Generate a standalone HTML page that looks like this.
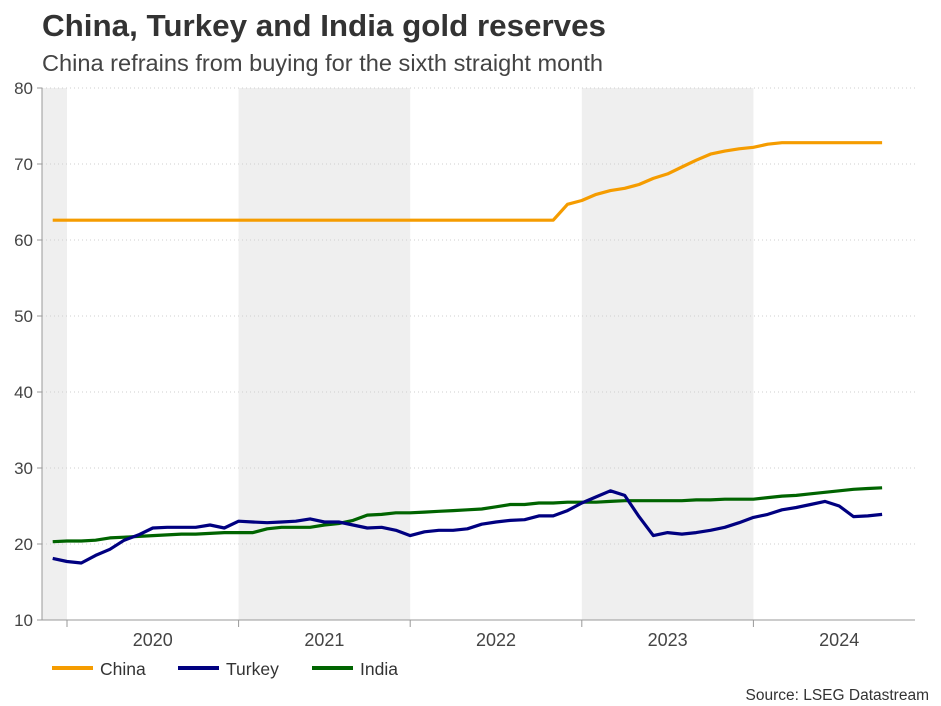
<!DOCTYPE html>
<html><head><meta charset="utf-8">
<style>
body{margin:0;background:#fff;font-family:"Liberation Sans",Arial,sans-serif;}
#wrap{position:relative;width:941px;height:706px;overflow:hidden;}
svg text{font-family:"Liberation Sans",Arial,sans-serif;}
</style></head>
<body>
<div id="wrap">
<svg id="chart" width="941" height="706">
  <text x="42" y="36" font-size="31" font-weight="bold" fill="#333" textLength="564" lengthAdjust="spacingAndGlyphs">China, Turkey and India gold reserves</text>
  <text x="42" y="71" font-size="23" fill="#444" textLength="561" lengthAdjust="spacingAndGlyphs">China refrains from buying for the sixth straight month</text>
  <g id="bands"></g>
  <g id="grid"></g>
  <g id="axes"></g>
  <g id="series"></g>
  <g>
    <g><rect x="52" y="666" width="41" height="4" fill="#f59c00"/><text x="100" y="675" font-size="17.5" fill="#333">China</text></g>
    <g><rect x="178" y="666" width="41" height="4" fill="#000080"/><text x="226" y="675" font-size="17.5" fill="#333">Turkey</text></g>
    <g><rect x="312" y="666" width="41" height="4" fill="#006400"/><text x="360" y="675" font-size="17.5" fill="#333">India</text></g>
  </g>
  <text x="929" y="700" font-size="15.5" fill="#333" text-anchor="end">Source: LSEG Datastream</text>
</svg>
</div>
<script>
const years = [2020, 2021, 2022, 2023, 2024];
const yTicks = [10, 20, 30, 40, 50, 60, 70, 80];
const shadedYears = [2019, 2021, 2023];
const china = [62.6,62.6,62.6,62.6,62.6,62.6,62.6,62.6,62.6,62.6,62.6,62.6,62.6,62.6,62.6,62.6,62.6,62.6,62.6,62.6,62.6,62.6,62.6,62.6,62.6,62.6,62.6,62.6,62.6,62.6,62.6,62.6,62.6,62.6,62.6,62.6,64.7,65.2,66.0,66.5,66.8,67.3,68.1,68.7,69.6,70.5,71.3,71.7,72.0,72.2,72.6,72.8,72.8,72.8,72.8,72.8,72.8,72.8,72.8];
const turkey = [18.1,17.7,17.5,18.5,19.3,20.5,21.2,22.1,22.2,22.2,22.2,22.5,22.1,23.0,22.9,22.8,22.9,23.0,23.3,22.9,22.9,22.5,22.1,22.2,21.8,21.1,21.6,21.8,21.8,22.0,22.6,22.9,23.1,23.2,23.7,23.7,24.4,25.4,26.2,27.0,26.4,23.6,21.1,21.5,21.3,21.5,21.8,22.2,22.8,23.5,23.9,24.5,24.8,25.2,25.6,25.0,23.6,23.7,23.9];
const india = [20.3,20.4,20.4,20.5,20.8,20.9,21.0,21.1,21.2,21.3,21.3,21.4,21.5,21.5,21.5,22.0,22.2,22.2,22.2,22.5,22.7,23.1,23.8,23.9,24.1,24.1,24.2,24.3,24.4,24.5,24.6,24.9,25.2,25.2,25.4,25.4,25.5,25.5,25.5,25.6,25.7,25.7,25.7,25.7,25.7,25.8,25.8,25.9,25.9,25.9,26.1,26.3,26.4,26.6,26.8,27.0,27.2,27.3,27.4];

const L = 42, R = 915, T = 88, B = 620;
const yearW = 171.6, year0X = 67;
function xYear(y){ return year0X + (y - 2020) * yearW; }
function xIdx(i){ return year0X + (i - 1) * yearW / 12; }
function yVal(v){ return B - (v - 10) * (B - T) / 70; }
const NS = "http://www.w3.org/2000/svg";
function mk(tag, attrs, parent){ const e = document.createElementNS(NS, tag); for (const k in attrs) e.setAttribute(k, attrs[k]); parent.appendChild(e); return e; }

const bands = document.getElementById('bands');
shadedYears.forEach(y => {
  const x0 = Math.max(L, xYear(y)), x1 = Math.min(R, xYear(y + 1));
  const r = mk('rect', {x: x0, y: T, width: x1 - x0, height: B - T, fill: '#efefef'}, bands);
  
  
});

const grid = document.getElementById('grid');
const axes = document.getElementById('axes');
yTicks.forEach(v => {
  if (v > 10) {
    const g = mk('line', {x1: L, x2: R, y1: yVal(v), y2: yVal(v), stroke: '#cfcfcf', 'stroke-dasharray': '1,3'}, grid);
    
    
  }
  const tk = mk('line', {x1: L - 5, x2: L, y1: yVal(v), y2: yVal(v), stroke: '#999'}, axes);
  
  
  const t = mk('text', {x: 33, y: yVal(v) + 6, 'font-size': 17, fill: '#444', 'text-anchor': 'end'}, axes);
  t.textContent = v;
  
  
});
const yl = mk('line', {x1: L, x2: L, y1: T, y2: B, stroke: '#999'}, axes);


const xl = mk('line', {x1: L, x2: R, y1: B, y2: B, stroke: '#999'}, axes);


years.concat([2025]).forEach(y => {
  const x = xYear(y);
  if (x <= R) {
    const tk = mk('line', {x1: x, x2: x, y1: B, y2: B + 7, stroke: '#999'}, axes);
    
    
  }
});
years.forEach(y => {
  const t = mk('text', {x: xYear(y) + yearW / 2, y: 646, 'font-size': 18, fill: '#444', 'text-anchor': 'middle'}, axes);
  t.textContent = y;
  
  
});

const series = document.getElementById('series');
[[india, '#006400', 'india'], [turkey, '#000080', 'turkey'], [china, '#f59c00', 'china']].forEach(([d, c, n]) => {
  const p = mk('polyline', {points: d.map((v, i) => xIdx(i).toFixed(1) + ',' + yVal(v).toFixed(1)).join(' '), fill: 'none', stroke: c, 'stroke-width': 3.2, 'stroke-linejoin': 'round'}, series);
  
  
});
</script>
</body></html>
